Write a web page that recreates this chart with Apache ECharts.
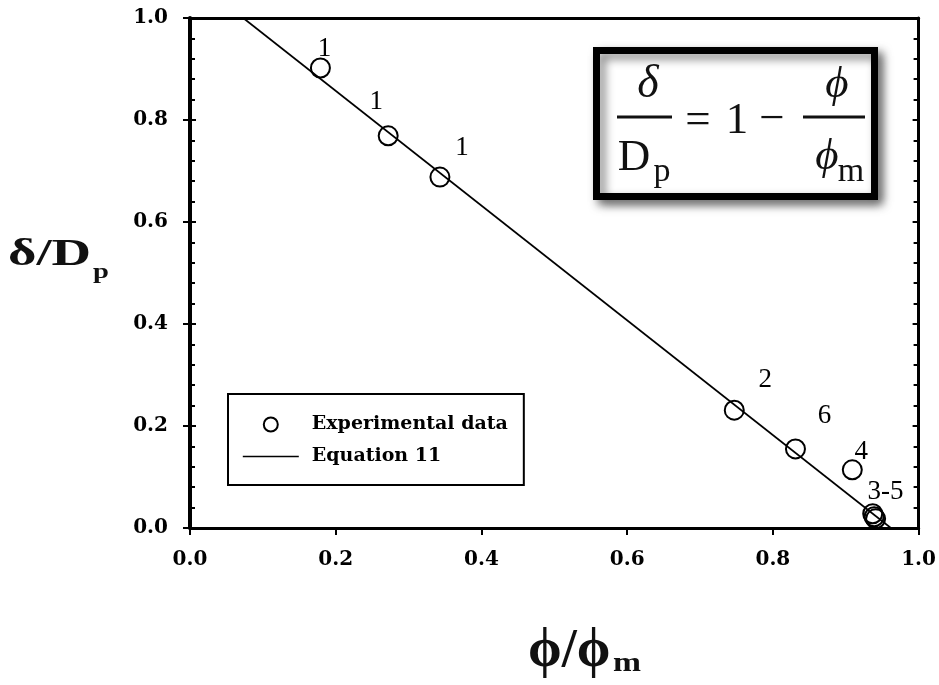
<!DOCTYPE html>
<html>
<head>
<meta charset="utf-8">
<script src="https://cdn.jsdelivr.net/npm/echarts@6/dist/echarts.min.js"></script>
<style>
html, body { margin: 0; padding: 0; background: #fff; }
#main { width: 939px; height: 685px; }
</style>
</head>
<body>
<div id="main"></div>
<script>
// experimental points: phi/phi_m and delta/Dp
const phiRatio = [0.179, 0.272, 0.343, 0.747, 0.831, 0.909, 0.937, 0.939, 0.941];
const deltaRatio = [0.902, 0.769, 0.688, 0.231, 0.155, 0.114, 0.028, 0.022, 0.018];
const pointTags = ['1', '1', '1', '2', '6', '4', '', '', '3-5'];
// Equation 11 line end points
const eqPhi = [0.073, 0.962];
const eqDelta = [1.0, 0.0];
const axisTicks = [0, 0.2, 0.4, 0.6, 0.8, 1.0];

// where each tag sits relative to its circle
const tagOffset = [[4, -19], [-12, -34], [22, -29], [31, -30], [29, -33], [9, -18], [0, 0], [0, 0], [10, -27]];

const chart = echarts.init(document.getElementById('main'));

const axMin = axisTicks[0];
const axMax = axisTicks[axisTicks.length - 1];
const axStep = axisTicks[1] - axisTicks[0];
const tickFont = { color: '#000', fontFamily: 'DejaVu Serif', fontWeight: 'bold', fontSize: 20 };
const fmt = v => v.toFixed(1);

let scatterData = [];
for (let i = 0; i < phiRatio.length; i++) {
  scatterData.push({
    value: [phiRatio[i], deltaRatio[i]],
    label: { offset: tagOffset[i] }
  });
}
let lineData = eqPhi.map((x, i) => [x, eqDelta[i]]);

const serif = 'Liberation Serif';
function txt (x, y, s, size, opt) {
  opt = opt || {};
  return {
    type: 'text', x: x, y: y, scaleX: opt.sx || 1, z: 20,
    style: {
      text: s, fill: '#111', font: (opt.style || '') + ' ' + (opt.weight || '') + ' ' + size + 'px "' + serif + '"',
      align: opt.align || 'center', verticalAlign: 'middle'
    }
  };
}

let option = {
  animation: false,
  backgroundColor: '#fff',
  grid: { left: 190, right: 20, top: 18, bottom: 157 },
  legend: {
    left: 228, top: 394,
    orient: 'vertical',
    selectedMode: false,
    backgroundColor: '#fff',
    borderColor: '#000',
    borderWidth: 2,
    padding: [21, 16, 19, 14],
    itemWidth: 56,
    itemHeight: 14,
    itemGap: 13,
    textStyle: { color: '#000', fontFamily: 'DejaVu Serif', fontWeight: 'bold', fontSize: 19, lineHeight: 18, padding: [0, 0, 0, 8] },
    data: [
      { name: 'Experimental data', icon: 'circle' },
      { name: 'Equation 11', itemStyle: { opacity: 0 }, lineStyle: { color: '#000', width: 1.6 } }
    ]
  },
  xAxis: [{
    type: 'value', position: 'bottom', min: axMin, max: axMax, interval: axStep,
    axisLine: { show: true, onZero: false, lineStyle: { color: '#000', width: 3 } },
    axisTick: { show: true, length: 7, lineStyle: { color: '#000', width: 2 } },
    axisLabel: Object.assign({ margin: 22, formatter: fmt }, tickFont),
    splitLine: { show: false }
  }, {
    type: 'value', position: 'top', min: axMin, max: axMax, interval: axStep,
    axisLine: { show: true, onZero: false, lineStyle: { color: '#000', width: 3 } },
    axisTick: { show: false }, axisLabel: { show: false }, splitLine: { show: false }
  }],
  yAxis: [{
    type: 'value', position: 'left', min: axMin, max: axMax, interval: axStep,
    axisLine: { show: true, onZero: false, lineStyle: { color: '#000', width: 4 } },
    axisTick: { show: true, length: 7, lineStyle: { color: '#000', width: 2 } },
    axisLabel: Object.assign({ margin: 22, formatter: fmt }, tickFont),
    splitLine: { show: false }
  }, {
    // inner ticks on the left spine
    type: 'value', position: 'left', min: axMin, max: axMax, interval: axStep,
    axisLine: { show: false },
    axisTick: { show: true, inside: true, length: 6, lineStyle: { color: '#000', width: 2 } },
    minorTick: { show: true, splitNumber: 5, length: 5, lineStyle: { color: '#000', width: 2 } },
    axisLabel: { show: false }, splitLine: { show: false }
  }, {
    type: 'value', position: 'right', min: axMin, max: axMax, interval: axStep,
    axisLine: { show: true, onZero: false, lineStyle: { color: '#000', width: 3 } },
    axisTick: { show: true, inside: true, length: 6, lineStyle: { color: '#000', width: 2 } },
    minorTick: { show: true, splitNumber: 5, length: 5, lineStyle: { color: '#000', width: 2 } },
    axisLabel: { show: false }, splitLine: { show: false }
  }],
  series: [{
    name: 'Experimental data',
    type: 'scatter',
    symbol: 'circle',
    symbolSize: 19,
    itemStyle: { color: 'rgba(0,0,0,0)', borderColor: '#000', borderWidth: 2, opacity: 1 },
    label: {
      show: true,
      position: 'inside',
      color: '#000',
      fontFamily: serif,
      fontSize: 27,
      formatter: p => pointTags[p.dataIndex]
    },
    emphasis: { disabled: true },
    data: scatterData
  }, {
    name: 'Equation 11',
    type: 'line',
    symbol: 'none',
    lineStyle: { color: '#000', width: 1.6 },
    itemStyle: { color: '#000' },
    emphasis: { disabled: true },
    data: lineData
  }],
  graphic: [
    // equation box
    {
      type: 'rect', z: 10,
      shape: { x: 596.5, y: 50.5, width: 278, height: 146 },
      style: { fill: '#fff', stroke: '#000', lineWidth: 7, shadowBlur: 10, shadowOffsetX: 5, shadowOffsetY: 5, shadowColor: 'rgba(0,0,0,0.5)' }
    },
    txt(648, 85, 'δ', 46, { style: 'italic' }),
    { type: 'line', z: 20, shape: { x1: 617, y1: 117, x2: 672, y2: 117 }, style: { stroke: '#111', lineWidth: 3 } },
    txt(634, 158, 'D', 45),
    txt(662, 172, 'p', 34),
    txt(698, 121, '=', 45),
    txt(737, 121, '1', 45),
    txt(772, 120, '−', 45),
    txt(837, 85, 'ϕ', 45, { style: 'italic' }),
    { type: 'line', z: 20, shape: { x1: 803, y1: 117, x2: 865, y2: 117 }, style: { stroke: '#111', lineWidth: 3 } },
    txt(827, 157, 'ϕ', 45, { style: 'italic' }),
    txt(851, 172, 'm', 34),
    // axis titles
    txt(8, 255, 'δ/D', 38, { weight: 'bold', align: 'left', sx: 1.44 }),
    txt(93, 272, 'p', 22, { weight: 'bold', align: 'left', sx: 1.3 }),
    txt(528, 652, 'ϕ/ϕ', 54, { weight: 'bold', align: 'left', sx: 1.0 }),
    txt(613, 664, 'm', 28, { weight: 'bold', align: 'left', sx: 1.2 })
  ]
};
chart.setOption(option);
</script>
</body>
</html>
